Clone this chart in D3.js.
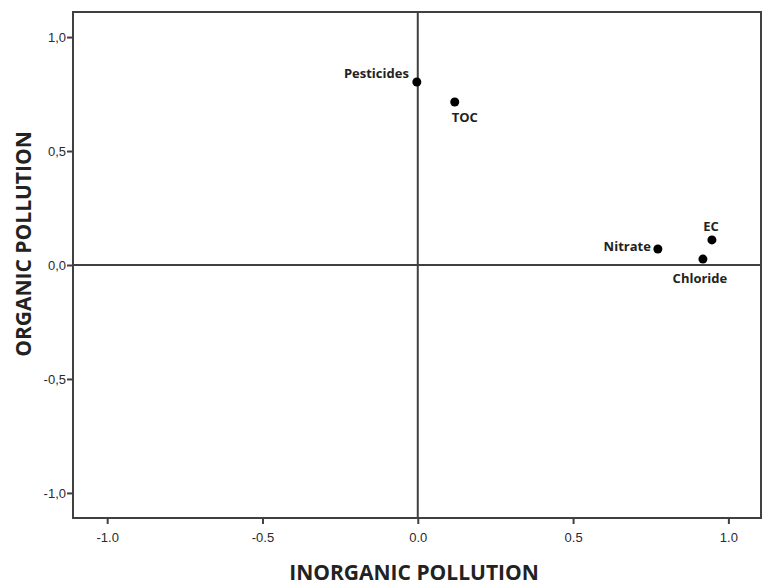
<!DOCTYPE html>
<html>
<head>
<meta charset="utf-8">
<script src="https://cdn.jsdelivr.net/npm/d3@7"></script>
<style>
  body { margin: 0; background: #fff; }
  svg { display: block; }
</style>
</head>
<body>
<svg id="plot"></svg>
<script>
var labels = ["Pesticides", "TOC", "Nitrate", "EC", "Chloride"];
var inorganic = [-0.003, 0.119, 0.773, 0.947, 0.918];
var organic = [0.803, 0.715, 0.07, 0.11, 0.026];
var tickValues = [-1.0, -0.5, 0.0, 0.5, 1.0];

var width = 762, height = 587;
var plotLeft = 73, plotRight = 761, plotTop = 12, plotBottom = 518;
var lineColor = "#404040";

var svg = d3.select("#plot")
    .attr("width", width)
    .attr("height", height);

var x = d3.scaleLinear().domain([-1.11, 1.105]).range([plotLeft, plotRight]);
var y = d3.scaleLinear().domain([-1.11, 1.11]).range([plotBottom, plotTop]);

var fmt = d => d3.format(".1f")(d).replace(".", ",").replace("−", "-");
var fmtX = d => d3.format(".1f")(d).replace("−", "-");

// frame
svg.append("rect")
    .attr("x", plotLeft).attr("y", plotTop)
    .attr("width", plotRight - plotLeft).attr("height", plotBottom - plotTop)
    .attr("fill", "none")
    .attr("stroke", lineColor)
    .attr("stroke-width", 2);

// axes
var xAxis = svg.append("g")
    .attr("transform", "translate(0," + plotBottom + ")")
    .call(d3.axisBottom(x).tickValues(tickValues).tickSize(6).tickFormat(fmtX));
var yAxis = svg.append("g")
    .attr("transform", "translate(" + plotLeft + ",0)")
    .call(d3.axisLeft(y).tickValues(tickValues).tickSize(6).tickFormat(fmt));

[xAxis, yAxis].forEach(function(g) {
    g.select(".domain").remove();
    g.selectAll(".tick line").attr("stroke", lineColor).attr("stroke-width", 2);
    g.selectAll(".tick text")
        .attr("fill", "#2a2a2a")
        .style("font-family", "'Liberation Sans', Arial, sans-serif")
        .style("font-size", "13px");
});
xAxis.selectAll(".tick text").attr("dy", "1.15em");
yAxis.selectAll(".tick text").attr("x", -7);

// reference lines through origin
svg.append("line")
    .attr("x1", x(0)).attr("x2", x(0))
    .attr("y1", plotTop).attr("y2", plotBottom)
    .attr("stroke", lineColor).attr("stroke-width", 2);
svg.append("line")
    .attr("x1", plotLeft).attr("x2", plotRight)
    .attr("y1", y(0)).attr("y2", y(0))
    .attr("stroke", lineColor).attr("stroke-width", 2);

// points
var data = labels.map((l, i) => ({label: l, x: inorganic[i], y: organic[i]}));
var labelPos = {
    "Pesticides": {dx: -8, dy: -4, anchor: "end"},
    "TOC": {dx: -3, dy: 20, anchor: "start"},
    "Nitrate": {dx: -7, dy: 2, anchor: "end"},
    "EC": {dx: -1, dy: -9, anchor: "middle"},
    "Chloride": {dx: -3, dy: 24, anchor: "middle"}
};

svg.selectAll(".pt")
    .data(data)
    .enter()
    .append("circle")
    .classed("pt", true)
    .attr("cx", d => x(d.x))
    .attr("cy", d => y(d.y))
    .attr("r", 4.5)
    .attr("fill", "#000");

svg.selectAll(".lbl")
    .data(data)
    .enter()
    .append("text")
    .classed("lbl", true)
    .attr("x", d => x(d.x) + labelPos[d.label].dx)
    .attr("y", d => y(d.y) + labelPos[d.label].dy)
    .attr("text-anchor", d => labelPos[d.label].anchor)
    .attr("fill", "#222")
    .style("font-family", "'Open Sans', sans-serif")
    .style("font-weight", "bold")
    .style("font-size", "13px")
    .text(d => d.label);

// axis titles
svg.append("text")
    .attr("x", 414)
    .attr("y", 580)
    .attr("text-anchor", "middle")
    .attr("fill", "#222")
    .style("font-family", "'Open Sans', sans-serif")
    .style("font-weight", "bold")
    .style("font-size", "21px")
    .text("INORGANIC POLLUTION");

svg.append("text")
    .attr("transform", "translate(31,244) rotate(-90)")
    .attr("text-anchor", "middle")
    .attr("fill", "#222")
    .style("font-family", "'Open Sans', sans-serif")
    .style("font-weight", "bold")
    .style("font-size", "21px")
    .text("ORGANIC POLLUTION");
</script>
</body>
</html>
